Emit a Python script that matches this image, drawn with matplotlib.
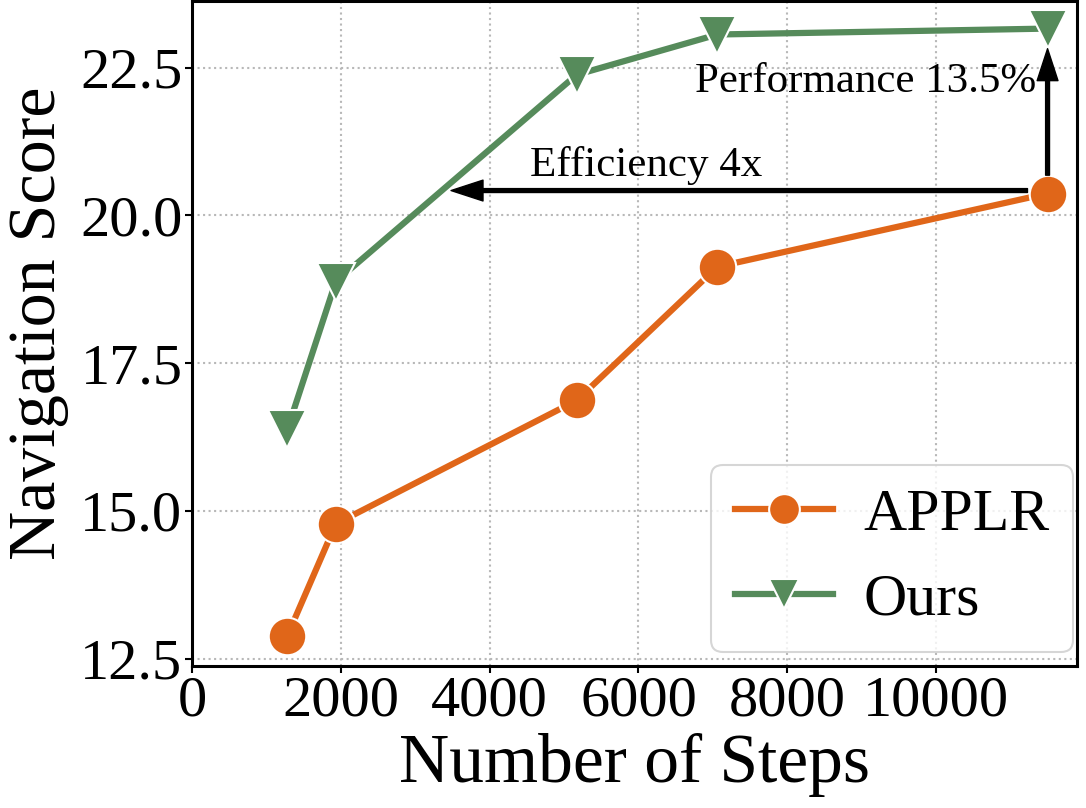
import numpy as np
from matplotlib import pyplot as plt

plt.rcParams['font.family'] = ['Liberation Serif', 'DejaVu Serif']

# data
steps_applr = [1280, 1930, 5170, 7060, 11500]
score_applr = [12.89, 14.78, 16.87, 19.13, 20.37]
steps_ours = [1280, 1930, 5170, 7060, 11500]
score_ours = [16.38, 18.88, 22.38, 23.06, 23.16]

orange = '#e06619'
green = '#568b5b'

fig = plt.figure(figsize=(10.86, 8.08), dpi=100)
ax = fig.add_axes([0.177, 0.176, 0.815, 0.823])

ax.plot(steps_applr, score_applr, '-o', color=orange, lw=4.5, ms=27,
        mec='white', mew=1.5, label='APPLR', zorder=3)
ax.plot(steps_ours, score_ours, '-v', color=green, lw=4.5, ms=27,
        mec='white', mew=1.5, label='Ours', zorder=3)

# efficiency arrow (horizontal) and performance arrow (vertical)
arrow = dict(facecolor='black', edgecolor='black', width=2.8,
             headwidth=15, headlength=23)
ax.annotate('', xy=(3480, 20.42), xytext=(11230, 20.42), arrowprops=arrow)
ax.annotate('', xy=(11500, 22.82), xytext=(11500, 20.68), arrowprops=arrow)
ax.text(6100, 20.84, 'Efficiency 4x', fontsize=31, ha='center', va='center')
ax.text(9060, 22.26, 'Performance 13.5%', fontsize=31, ha='center', va='center')

ax.set_xlim(0, 11900)
ax.set_ylim(12.38, 23.63)
ax.set_xticks([0, 2000, 4000, 6000, 8000, 10000])
ax.set_yticks([12.5, 15.0, 17.5, 20.0, 22.5])
ax.set_yticklabels(['12.5', '15.0', '17.5', '20.0', '22.5'])
ax.tick_params(labelsize=42, length=5, width=1.5, pad=2)
ax.grid(True, ls=':', color='#b8b8b8', lw=1.5)
for s in ax.spines.values():
    s.set_linewidth(2.2)
    s.set_color('black')

ax.set_xlabel('Number of Steps', fontsize=50, labelpad=4)
ax.set_ylabel('Navigation Score', fontsize=49, labelpad=8, y=0.515)

leg = ax.legend(loc='lower right', bbox_to_anchor=(0.9955, 0.021),
                borderaxespad=0, fontsize=43, markerscale=0.82,
                handlelength=1.65, handletextpad=0.5, labelspacing=0.5,
                fancybox=True, framealpha=0.8)
leg.get_frame().set_edgecolor('#cccccc')
leg.get_frame().set_linewidth(1.5)

fig.savefig('out.png', dpi=100)
